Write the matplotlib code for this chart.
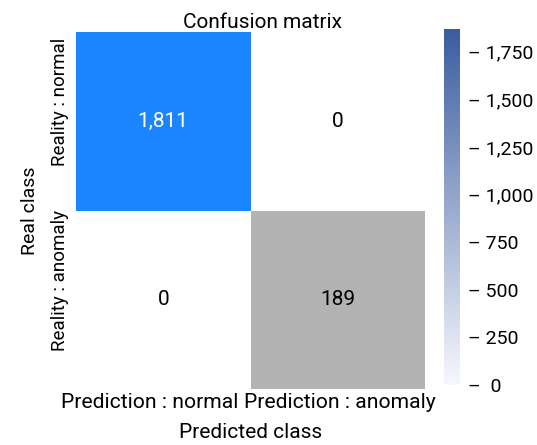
import numpy as np
import matplotlib
matplotlib.use("Agg")
import matplotlib.pyplot as plt
import matplotlib.transforms as mtransforms
from matplotlib.colors import ListedColormap, BoundaryNorm, LinearSegmentedColormap, Normalize
from matplotlib.cm import ScalarMappable
from matplotlib.ticker import FuncFormatter

plt.rcParams['font.family'] = ['Roboto', 'DejaVu Sans']

pred_labels = ["Prediction : normal", "Prediction : anomaly"]
real_labels = ["Reality : normal", "Reality : anomaly"]
matrix = np.array([[1811, 0],
                   [0, 189]])
cbar_ticks = [0, 250, 500, 750, 1000, 1250, 1500, 1750]
CBAR_MAX = 1870

# cell colours: zero -> white, small -> grey, large -> blue
cell_cmap = ListedColormap(["#ffffff", "#b3b3b3", "#1a85ff"])
cell_norm = BoundaryNorm([-0.5, 1, 1000, 10000], cell_cmap.N)
bar_cmap = LinearSegmentedColormap.from_list("bar", ["#f7f8fd", "#3a5c9f"])

fig = plt.figure(figsize=(5.37, 4.45), dpi=100)
ax = fig.add_axes([76 / 537, 1 - 389 / 445, 349 / 537, 357 / 445])
ax.pcolormesh(matrix, cmap=cell_cmap, norm=cell_norm)
ax.set_xlim(0, 2)
ax.set_ylim(2, 0)
for s in ax.spines.values():
    s.set_visible(False)

for i in range(2):
    for j in range(2):
        v = matrix[i, j]
        color = "white" if v > 1000 else "black"
        ax.text(j + 0.5, i + 0.5, f"{v:,}", ha="center", va="center", fontsize=15, color=color)

ax.set_xticks([0.5, 1.5])
ax.set_xticklabels(pred_labels, fontsize=15.2)
ax.set_yticks([0.5, 1.5])
ax.set_yticklabels(real_labels, fontsize=13.5, rotation=90, va="center")
ax.tick_params(length=0)
ax.tick_params(axis="x", pad=3)
ax.tick_params(axis="y", pad=5)

# labels were nudged apart in the original so they don't collide
xl = ax.get_xticklabels()
xl[0].set_transform(xl[0].get_transform() + mtransforms.ScaledTranslation(-0.14, 0, fig.dpi_scale_trans))
xl[1].set_transform(xl[1].get_transform() + mtransforms.ScaledTranslation(0.02, 0, fig.dpi_scale_trans))
for t in ax.get_yticklabels():
    t.set_transform(t.get_transform() + mtransforms.ScaledTranslation(0, 0.19, fig.dpi_scale_trans))

ax.set_xlabel("Predicted class", fontsize=15, labelpad=8)
ax.set_ylabel("Real class", fontsize=14, labelpad=9)
title = ax.set_title("Confusion matrix", fontsize=15, pad=3)
title.set_transform(title.get_transform() + mtransforms.ScaledTranslation(0.12, 0, fig.dpi_scale_trans))

cax = fig.add_axes([444 / 537, 1 - 385 / 445, 16 / 537, 356 / 445])
cb = fig.colorbar(ScalarMappable(norm=Normalize(0, CBAR_MAX), cmap=bar_cmap), cax=cax)
cb.outline.set_visible(False)
cb.set_ticks(cbar_ticks)
cb.ax.yaxis.set_major_formatter(FuncFormatter(lambda x, p: f"\u2013 {int(x):,}" if x else "\u2013  0"))
cb.ax.tick_params(labelsize=14, length=0, pad=6)

fig.savefig("out.png", dpi=100)
